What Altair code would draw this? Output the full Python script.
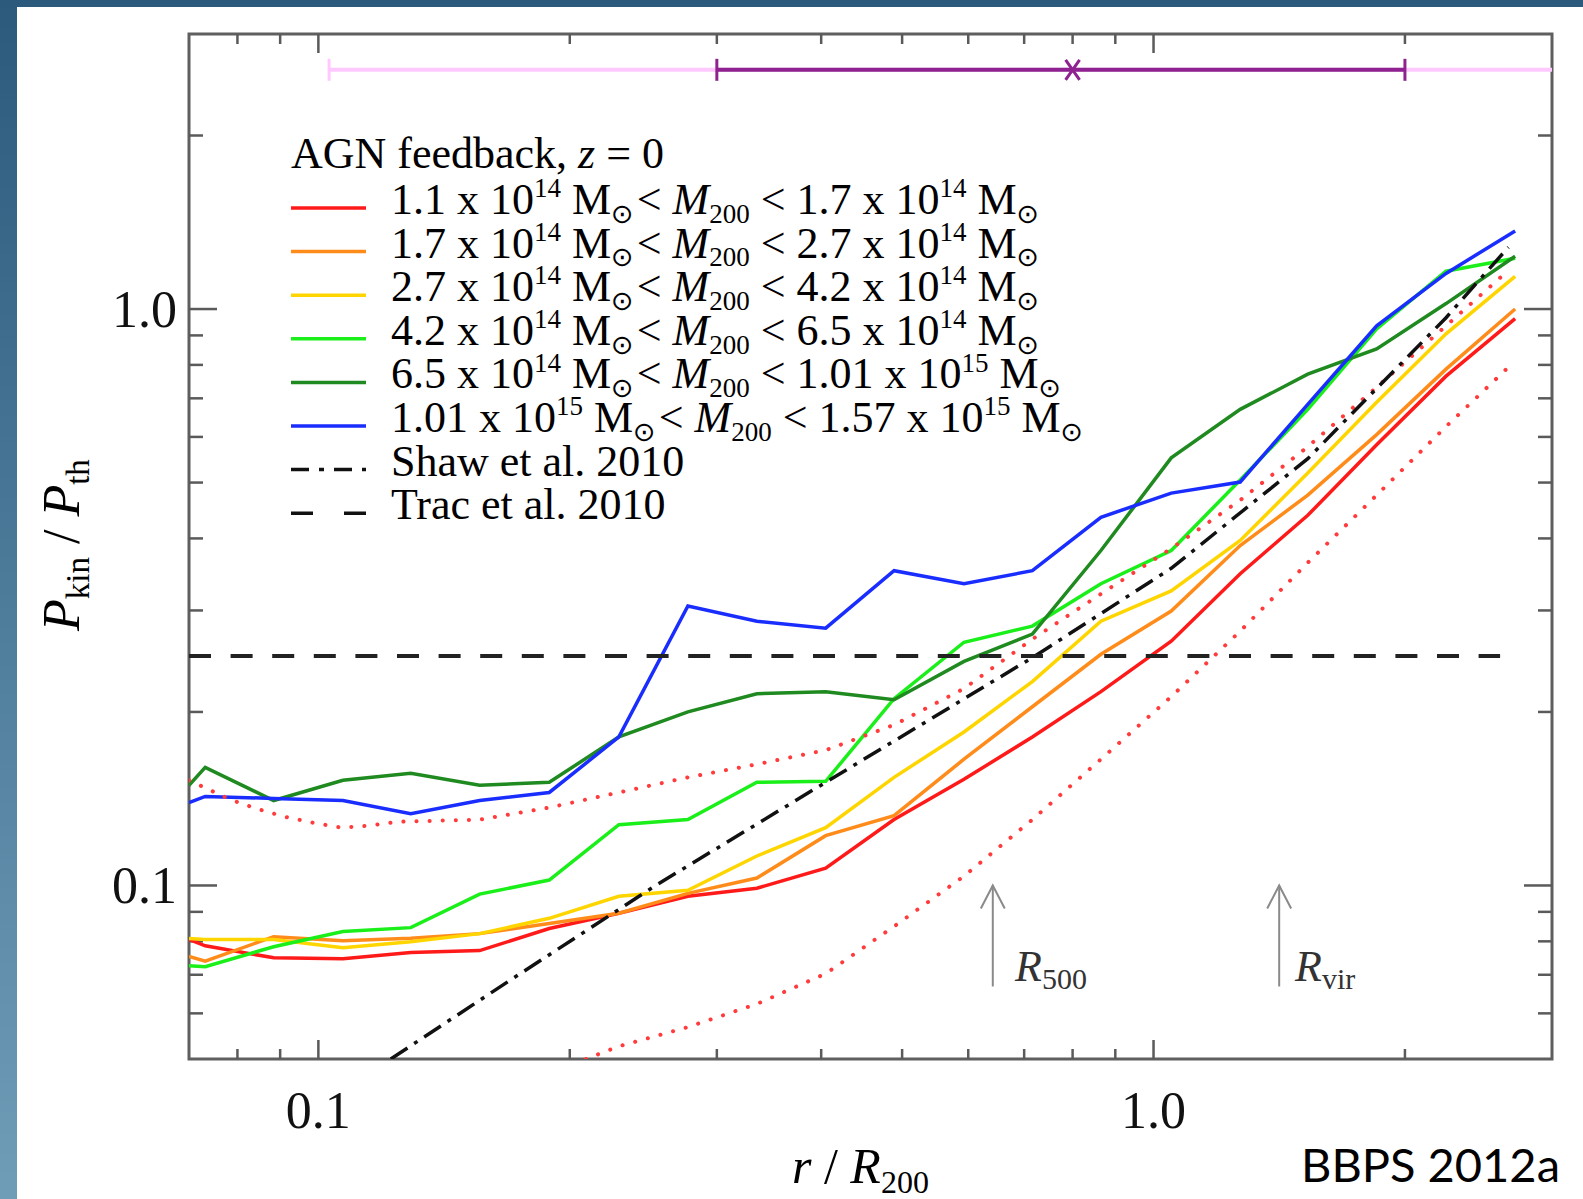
import altair as alt
import pandas as pd

# ---------------- data ----------------
R_BINS = [0.07, 0.0732, 0.0884, 0.107, 0.129, 0.156, 0.189, 0.229, 0.277, 0.335, 0.405,
          0.489, 0.593, 0.716, 0.865, 1.05, 1.27, 1.53, 1.85, 2.24, 2.71]
RED = [0.0806, 0.0786, 0.0749, 0.0746, 0.0765, 0.0771, 0.0842, 0.0895, 0.0958, 0.0989, 0.1072,
       0.1301, 0.1528, 0.1810, 0.2169, 0.2653, 0.3474, 0.4387, 0.5816, 0.7648, 0.9621]
ORANGE = [0.0753, 0.0739, 0.0815, 0.0802, 0.0810, 0.0825, 0.0859, 0.0895, 0.0969, 0.1030, 0.1220,
          0.1322, 0.1656, 0.2042, 0.2518, 0.2993, 0.3888, 0.4755, 0.6055, 0.7866, 1.000]
YELLOW = [0.0809, 0.0806, 0.0806, 0.0780, 0.0799, 0.0825, 0.0877, 0.0958, 0.0981, 0.1125, 0.1260,
          0.1540, 0.1846, 0.2258, 0.2874, 0.3244, 0.3967, 0.5196, 0.6890, 0.9058, 1.139]
LGREEN = [0.0726, 0.0723, 0.0783, 0.0832, 0.0845, 0.0966, 0.1022, 0.1275, 0.1301, 0.1510, 0.1516,
          0.2109, 0.2642, 0.2818, 0.3337, 0.3811, 0.5052, 0.6698, 0.9241, 1.163, 1.225]
DGREEN = [0.1492, 0.1603, 0.1404, 0.1522, 0.1565, 0.1492, 0.1510, 0.1810, 0.2001, 0.2151, 0.2169,
          0.2100, 0.2447, 0.2729, 0.3811, 0.5519, 0.6698, 0.7709, 0.8527, 1.022, 1.235]
BLUE = [0.1393, 0.1427, 0.1416, 0.1404, 0.1332, 0.1404, 0.1450, 0.1810, 0.3054, 0.2874, 0.2795,
        0.3516, 0.3337, 0.3516, 0.4352, 0.4794, 0.5011, 0.6835, 0.9354, 1.153, 1.366]

DOT_HI_R = [0.07, 0.0784, 0.0843, 0.0909, 0.0985, 0.1065, 0.1151, 0.1248, 0.156, 0.189, 0.229, 0.277,
            0.335, 0.405, 0.489, 0.593, 0.716, 0.865, 1.05, 1.27, 1.53, 1.85, 2.29, 2.66]
DOT_HI = [0.1522, 0.1410, 0.1359, 0.1317, 0.1285, 0.1260, 0.1270, 0.1290, 0.1301, 0.1365, 0.1450, 0.1540,
          0.1623, 0.1717, 0.1899, 0.2196, 0.2674, 0.3205, 0.3842, 0.4661, 0.5770, 0.7318, 0.9621, 1.167]
DOT_LO_R = [0.209, 0.229, 0.277, 0.335, 0.405, 0.489, 0.593, 0.716, 0.865, 1.05, 1.27, 1.53, 1.85, 2.24, 2.70]
DOT_LO = [0.0500, 0.0526, 0.0568, 0.0623, 0.0703, 0.0849, 0.1038, 0.1301, 0.1656, 0.2126, 0.2762,
          0.3631, 0.4755, 0.6254, 0.8091]

SHAW_R = [0.1221, 0.1671, 0.2537, 0.405, 0.720, 1.05, 1.53, 2.24, 2.66]
SHAW = [0.0500, 0.0675, 0.1001, 0.1510, 0.2497, 0.355, 0.550, 0.9660, 1.280]
TRAC_R = [0.07, 2.6]
TRAC = [0.25, 0.25]

BAR_Y = 2.6
PINK_RANGE = [0.103, 3.0]
PURPLE_RANGE = [0.30, 2.0]
PURPLE_MID = 0.80

R500 = 0.642
RVIR = 1.414
ARROW_Y = [0.0668, 0.1]

X_LABELS = [0.1, 1.0]
Y_LABELS = [0.1, 1.0]
X_MINOR = [0.08, 0.09, 0.2, 0.3, 0.4, 0.5, 0.6, 0.7, 0.8, 0.9, 2.0]
X_MAJOR = [0.1, 1.0]
Y_MINOR = [0.06, 0.07, 0.08, 0.09, 0.2, 0.3, 0.4, 0.5, 0.6, 0.7, 0.8, 0.9, 2.0]
Y_MAJOR = [0.1, 1.0]

MASS_BINS = [("1.1", "14", "1.7", "14"), ("1.7", "14", "2.7", "14"), ("2.7", "14", "4.2", "14"),
             ("4.2", "14", "6.5", "14"), ("6.5", "14", "1.01", "15"), ("1.01", "15", "1.57", "15")]
SERIES_COLORS = ["#ff1a1a", "#ff8c1a", "#ffd500", "#1aef1a", "#1f8a1f", "#1a2dff"]
SERIES = [RED, ORANGE, YELLOW, LGREEN, DGREEN, BLUE]

# ---------------- layout ----------------
PAGE_W, PAGE_H = 1583, 1199
PADL, PADT = 189, 34
W, H = 1363, 1025
SERIF = "Liberation Serif"
TICK_C = "#5a5a5a"

xs = alt.Scale(type="log", domain=[0.07, 3.0], nice=False)
ys = alt.Scale(type="log", domain=[0.05, 3.0], nice=False)
ONE = alt.Data(values=[{"a": 1}])


def line_layer(xv, yv, color, width, dash=None, cap="butt"):
    df = pd.DataFrame({"x": xv, "y": yv, "i": list(range(len(xv)))})
    kw = dict(color=color, strokeWidth=width, clip=True, strokeCap=cap)
    if dash:
        kw["strokeDash"] = dash
    return alt.Chart(df).mark_line(**kw).encode(
        x=alt.X("x:Q", scale=xs, axis=None),
        y=alt.Y("y:Q", scale=ys, axis=None),
        order="i:Q")


def txt(s, x, y, size, style="normal", font=SERIF, color="black", align="left", angle=0):
    return alt.Chart(ONE).mark_text(text=s, font=font, fontSize=size, fontStyle=style, color=color,
                                    align=align, baseline="alphabetic", angle=angle).encode(
        x=alt.value(x), y=alt.value(y))


# Times / Liberation Serif advance widths (em)
NW = {' ': .25, ',': .25, '.': .25, '/': .278, '<': .564, '=': .564, 'A': .722, 'G': .722, 'N': .722,
      'M': .889, 'S': .556, 'T': .611, 'a': .444, 'b': .5, 'c': .444, 'd': .5, 'e': .444, 'f': .333,
      'h': .5, 'i': .278, 'k': .5, 'l': .278, 'n': .5, 'r': .333, 't': .278, 'v': .5, 'w': .722, 'x': .5}
IW = {' ': .25, 'M': .833, 'P': .611, 'R': .611, 'r': .389, 'z': .389}


def width(s, kind, fs):
    tot = 0.0
    for ch in s:
        if ch == '⊙':
            tot += .80
        elif kind == 'i':
            tot += IW.get(ch, .5)
        else:
            tot += NW.get(ch, .5)
    return tot * fs


def rich(segs, x0, y0, size, sub, up=0.38, down=0.2, vertical=False, color="black"):
    out = []
    cur = 0.0
    for seg in segs:
        s, kind = seg[0], seg[1]
        gap = seg[2] if len(seg) > 2 else 0.0
        cur += gap
        fs = sub if kind in ('sup', 'sub') else size
        lead = len(s) - len(s.lstrip(' '))
        core = s.strip(' ')
        start = cur + width(' ' * lead, 'n', fs)
        off = -up * size if kind == 'sup' else (down * size if kind == 'sub' else 0)
        style = 'italic' if kind == 'i' else 'normal'
        font = "DejaVu Sans" if core == '⊙' else SERIF
        if vertical:
            out.append(txt(core, x0 + off, y0 - start, fs, style, font, color, angle=270))
        else:
            out.append(txt(core, x0 + start, y0 + off, fs, style, font, color))
        cur += width(s, kind, fs)
    return out


layers = []

# page decoration: blue border
grad = alt.LinearGradient(gradient="linear", x1=0, x2=0, y1=0, y2=1,
                          stops=[alt.GradientStop(color="#2b5a7d", offset=0),
                                 alt.GradientStop(color="#6f9db8", offset=1)])
layers.append(alt.Chart(ONE).mark_rect(color=grad).encode(
    x=alt.value(-PADL), x2=alt.value(-PADL + 17), y=alt.value(-PADT), y2=alt.value(PAGE_H - PADT)))
layers.append(alt.Chart(ONE).mark_rect(color="#2b5a7d").encode(
    x=alt.value(-PADL), x2=alt.value(PAGE_W - PADL), y=alt.value(-PADT), y2=alt.value(-PADT + 7)))


# ticks (pointing inwards on all four sides)
def xticks(vals, ln):
    df = pd.DataFrame({"v": vals})
    base = alt.Chart(df).mark_rule(color=TICK_C, strokeWidth=2.5)
    return [base.encode(x=alt.X("v:Q", scale=xs, axis=None), y=alt.value(H), y2=alt.value(H - ln)),
            base.encode(x=alt.X("v:Q", scale=xs, axis=None), y=alt.value(0), y2=alt.value(ln))]


def yticks(vals, ln):
    df = pd.DataFrame({"v": vals})
    base = alt.Chart(df).mark_rule(color=TICK_C, strokeWidth=2.5)
    return [base.encode(y=alt.Y("v:Q", scale=ys, axis=None), x=alt.value(0), x2=alt.value(ln)),
            base.encode(y=alt.Y("v:Q", scale=ys, axis=None), x=alt.value(W), x2=alt.value(W - ln))]


layers += xticks(X_MINOR, 10) + xticks(X_MAJOR, 19) + yticks(Y_MINOR, 14) + yticks(Y_MAJOR, 28)

# solid series
for vals, col in zip(SERIES, SERIES_COLORS):
    layers.append(line_layer(R_BINS, vals, col, 3.5))

# dotted red, Shaw dash-dot, Trac dashed
layers.append(line_layer(DOT_HI_R, DOT_HI, "#ff3b3b", 4, dash=[0.1, 13], cap="round"))
layers.append(line_layer(DOT_LO_R, DOT_LO, "#ff3b3b", 4, dash=[0.1, 13], cap="round"))
layers.append(line_layer(SHAW_R, SHAW, "#111111", 3.5, dash=[20, 8, 4, 8]))
layers.append(line_layer(TRAC_R, TRAC, "#222222", 4, dash=[22, 19.6]))

# top error bars
bar_df = pd.DataFrame({"x": [PINK_RANGE[0], PURPLE_RANGE[0]], "x2": [PINK_RANGE[1], PURPLE_RANGE[1]],
                       "y": [BAR_Y, BAR_Y]})
layers.append(alt.Chart(bar_df.iloc[:1]).mark_rule(color="#ffc8ff", strokeWidth=4, clip=True).encode(
    x=alt.X("x:Q", scale=xs, axis=None), x2="x2:Q", y=alt.Y("y:Q", scale=ys, axis=None)))
layers.append(alt.Chart(bar_df.iloc[1:]).mark_rule(color="#8e2390", strokeWidth=4).encode(
    x=alt.X("x:Q", scale=xs, axis=None), x2="x2:Q", y=alt.Y("y:Q", scale=ys, axis=None)))
cap_df = pd.DataFrame({"x": [PINK_RANGE[0], PURPLE_RANGE[0], PURPLE_RANGE[1]], "y": [BAR_Y] * 3,
                       "c": ["#ffc8ff", "#8e2390", "#8e2390"]})
layers.append(alt.Chart(cap_df).mark_point(shape="M0,-1L0,1", size=484, filled=False, strokeWidth=3,
                                           opacity=1).encode(
    x=alt.X("x:Q", scale=xs, axis=None), y=alt.Y("y:Q", scale=ys, axis=None),
    stroke=alt.Stroke("c:N", scale=None)))
layers.append(alt.Chart(pd.DataFrame({"x": [PURPLE_MID], "y": [BAR_Y]})).mark_point(
    shape="M-0.7,-1L0.7,1M-0.7,1L0.7,-1", size=400, filled=False, strokeWidth=3, color="#8e2390",
    opacity=1).encode(x=alt.X("x:Q", scale=xs, axis=None), y=alt.Y("y:Q", scale=ys, axis=None)))

# R500 / Rvir arrows
arr_df = pd.DataFrame({"x": [R500, RVIR], "y": [ARROW_Y[0]] * 2, "y2": [ARROW_Y[1]] * 2})
layers.append(alt.Chart(arr_df).mark_rule(color="#8a8a8a", strokeWidth=2).encode(
    x=alt.X("x:Q", scale=xs, axis=None), y=alt.Y("y:Q", scale=ys, axis=None), y2="y2:Q"))
layers.append(alt.Chart(arr_df).mark_point(shape="M-0.52,1L0,0L0.52,1", size=2116, filled=False,
                                           strokeWidth=2, color="#8a8a8a", opacity=1).encode(
    x=alt.X("x:Q", scale=xs, axis=None), y=alt.Y("y2:Q", scale=ys, axis=None)))

# tick labels
layers.append(alt.Chart(pd.DataFrame({"v": X_LABELS, "t": ["0.1", "1.0"]})).mark_text(
    font=SERIF, fontSize=52, align="center", baseline="alphabetic", color="#111").encode(
    x=alt.X("v:Q", scale=xs, axis=None), y=alt.value(1128 - PADT), text="t:N"))
layers.append(alt.Chart(pd.DataFrame({"v": Y_LABELS, "t": ["0.1", "1.0"]})).mark_text(
    font=SERIF, fontSize=52, align="right", baseline="alphabetic", dy=18, color="#111").encode(
    y=alt.Y("v:Q", scale=ys, axis=None), x=alt.value(177 - PADL), text="t:N"))

# axis titles
layers += rich([("r", 'i'), (" / ", 'n'), ("R", 'i'), ("200", 'sub')], 792 - PADL, 1183 - PADT, 50, 32,
               down=0.2)
layers += rich([("P", 'i'), ("kin", 'sub'), (" / ", 'n'), ("P", 'i'), ("th", 'sub')], 79 - PADL,
               631 - PADT, 52, 33, down=0.19, vertical=True)

# R500 / Rvir labels
layers += rich([("R", 'i'), ("500", 'sub')], 1015 - PADL, 981 - PADT, 44, 30, down=0.18, color="#333")
layers += rich([("R", 'i'), ("vir", 'sub')], 1295 - PADL, 981 - PADT, 44, 30, down=0.18, color="#333")

# legend
LX0, LX1, LTX = 291 - PADL, 366 - PADL, 391 - PADL
layers += rich([("AGN feedback, ", 'n'), ("z", 'i'), (" = 0", 'n')], LX0, 168 - PADT, 44, 28)
row_base = [214 + 43.6 * i - PADT for i in range(8)]
for i, ((a, ea, b, eb), col) in enumerate(zip(MASS_BINS, SERIES_COLORS)):
    yb = row_base[i]
    layers.append(alt.Chart(ONE).mark_rule(color=col, strokeWidth=3.5).encode(
        x=alt.value(LX0), x2=alt.value(LX1), y=alt.value(yb - 6), y2=alt.value(yb - 6)))
    segs = [(f"{a} x 10", 'n'), (ea, 'sup'), (" M", 'n'), ("⊙", 'sub'), ("<", 'n', 4), (" M", 'i'),
            ("200", 'sub'), (f" < {b} x 10", 'n'), (eb, 'sup'), (" M", 'n'), ("⊙", 'sub')]
    layers += rich(segs, LTX, yb, 44, 27, up=0.38, down=0.2)
for j, (lab, dash) in enumerate([("Shaw et al. 2010", [18, 10, 5, 10]), ("Trac et al. 2010", [22, 31])]):
    yb = row_base[6 + j]
    layers.append(alt.Chart(ONE).mark_rule(color="#111", strokeWidth=3.5, strokeDash=dash).encode(
        x=alt.value(LX0), x2=alt.value(LX1), y=alt.value(yb - 6), y2=alt.value(yb - 6)))
    layers.append(txt(lab, LTX, yb, 44))

# credit
layers.append(txt("BBPS 2012a", 1560 - PADL, 1182 - PADT, 47, font="Lato", align="right"))

chart = alt.layer(*layers).properties(
    width=W, height=H,
    padding={"left": PADL, "top": PADT, "right": PAGE_W - PADL - W, "bottom": PAGE_H - PADT - H},
    autosize=alt.AutoSizeParams(type="none"), background="white"
).configure_view(stroke="#5f5f5f", strokeWidth=3)

chart.save("out.html", embed_options={"renderer": "svg", "actions": False})
